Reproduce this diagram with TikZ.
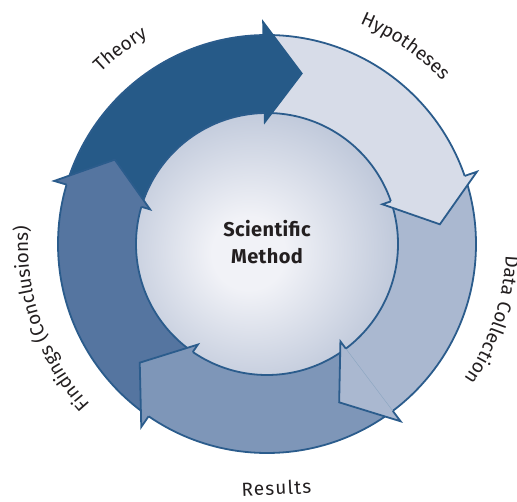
\documentclass[tikz,border=0pt]{standalone}
\usepackage{fontspec}
\usetikzlibrary{decorations.text}
\newfontfamily\labfont[LetterSpace=4]{Fira Sans}
\newfontfamily\labwide[LetterSpace=6]{Fira Sans}
\newfontfamily\ctrfont[LetterSpace=2]{Fira Sans}
\definecolor{theoryc}{HTML}{265A88}
\definecolor{hypc}{HTML}{D7DCE8}
\definecolor{datac}{HTML}{AAB8D0}
\definecolor{resc}{HTML}{7E96B8}
\definecolor{findc}{HTML}{5575A0}
\definecolor{linec}{HTML}{2B5C8C}
\definecolor{shin}{HTML}{F1F2F7}
\definecolor{shout}{HTML}{889ABA}
\definecolor{labc}{HTML}{231F20}
\pgfdeclareradialshading{innershade}{\pgfpoint{-4bp}{-2bp}}{color(0bp)=(shin); color(7bp)=(shin); color(50bp)=(shout); color(60bp)=(shout)}
\newcommand{\ringsector}[3]{% color, start, end
  \fill[#1] (#2:\Ro) arc[start angle=#2, end angle=#3, radius=\Ro] -- (#3:\Ri) arc[start angle=#3, end angle=#2, radius=\Ri] -- cycle;}
\newcommand{\arrowhead}[4]{% color, barb angle, tip angle, outline colour
  \fill[#1] (#2:\Rbo) -- (#3:\Rt) -- (#2:\Rbi) -- cycle;
  \draw[draw=#4, line width=1.8pt, line join=miter] (#2:\Ro) -- (#2:\Rbo) -- (#3:\Rt) -- (#2:\Rbi) -- (#2:\Ri);}
\begin{document}
\begin{tikzpicture}[x=1pt,y=1pt,
  ol/.style={draw=linec, line width=1.8pt},
  lab/.style={decorate, decoration={text along path, text align=center, text color=labc, text={#1}}}]
\useasboundingbox (0,0) rectangle (517,501);
\begin{scope}[shift={(267,257)}]
\def\Ri{131}\def\Ro{209}\def\Rbi{122}\def\Rbo{222}\def\Rt{174}
% bodies
\ringsector{theoryc}{163.5}{91}
\ringsector{hypc}{91}{19}
\ringsector{datac}{19}{-53}
\ringsector{resc}{-53}{-124.5}
\ringsector{findc}{235.5}{163.5}
% seam patches
\ringsector{theoryc}{93}{89}
\ringsector{hypc}{21}{17}
\ringsector{datac}{-51}{-55}
\ringsector{resc}{-122.5}{-126.5}
\ringsector{findc}{165.5}{161.5}
% inner disk
\shade[shading=innershade] (0,0) circle[radius=\Ri];
\draw[ol] (0,0) circle[radius=\Ri];
\draw[ol] (0,0) circle[radius=\Ro];
% heads
\arrowhead{theoryc}{91}{78.5}{theoryc}
\arrowhead{hypc}{19}{6.5}{linec}
\fill[datac] (-53:\Rbo) -- (-65.5:\Rt) -- (-53:\Rbi) -- cycle;
\draw[linec!55, line width=0.4pt] (-53:\Ri) -- (-53:\Rbo);
\draw[ol, line join=miter] (-53:\Ro) -- (-53:\Rbo) -- (-65.5:\Rt) -- (-53:\Rbi) -- (-53:\Ri);
\arrowhead{resc}{-124.5}{-137}{linec}
\arrowhead{findc}{163.5}{151}{linec}
% centre text
\node[font=\ctrfont\bfseries\fontsize{20}{27}\selectfont, align=center, text=labc] (title) at (0,1.5) {Scientific\\Method};
% labels
\path[lab={|\labfont\fontsize{19}{22}\selectfont|Theory}] (157:239) arc[start angle=157, end angle=97, radius=239];
\path[lab={|\labfont\fontsize{19}{22}\selectfont|Hypotheses}] (85:239) arc[start angle=85, end angle=25, radius=239];
\path[lab={|\labfont\fontsize{19}{22}\selectfont|Data Collection}] (15:239) arc[start angle=15, end angle=-52, radius=239];
\node[font=\labwide\fontsize{19}{22}\selectfont, text=labc, rotate=2.5, anchor=base, inner sep=0pt] (results) at (-87.8:251) {Results};
\path[lab={|\labfont\fontsize{19}{22}\selectfont|Findings (Conclusions)}] (245:239) arc[start angle=245, end angle=153, radius=239];
\end{scope}
\end{tikzpicture}
\end{document}
